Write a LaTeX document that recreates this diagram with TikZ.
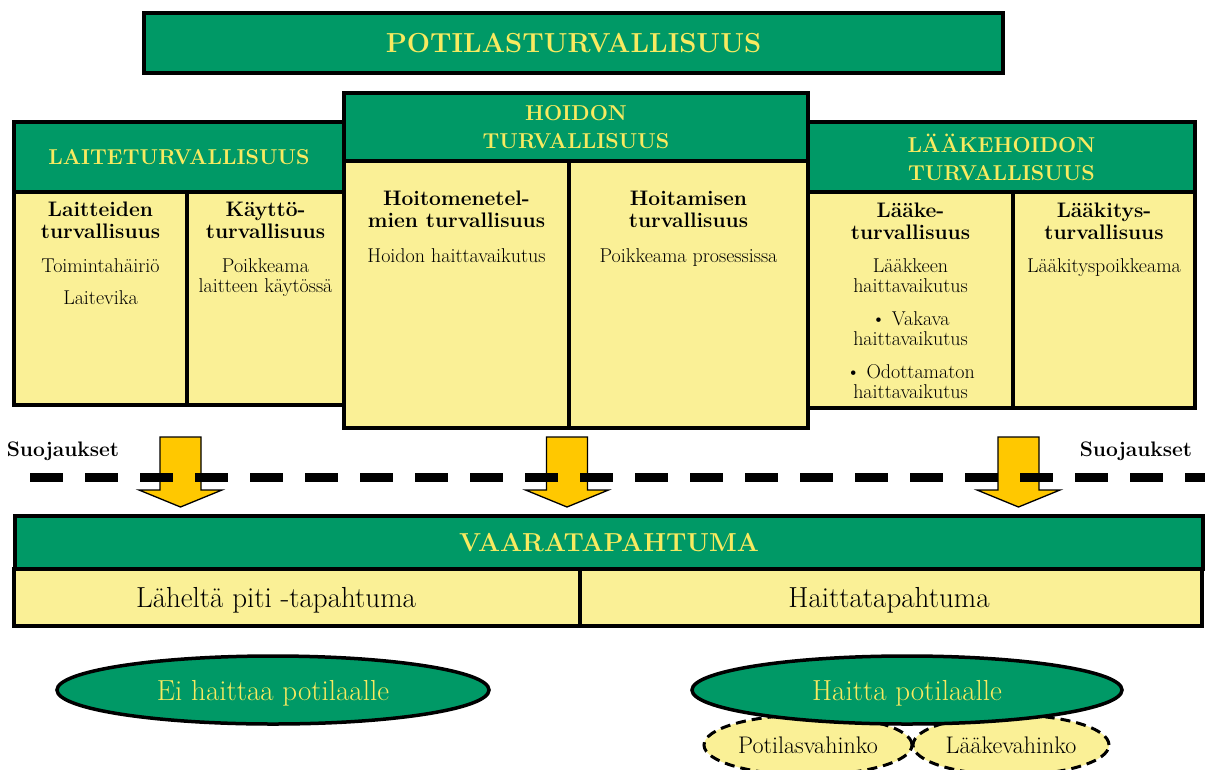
\documentclass[tikz,border=0pt]{standalone}
\usepackage{fontspec}
\usetikzlibrary{shapes.geometric}

\definecolor{boxgreen}{RGB}{0,153,102}
\definecolor{cellyellow}{RGB}{250,240,150}
\definecolor{capyellow}{RGB}{248,234,96}
\definecolor{arrowgold}{RGB}{255,200,0}

\tikzset{
  boxframe/.style={rectangle, draw=black, line width=3.5pt, inner sep=0pt, outer sep=0pt},
  greenbox/.style={boxframe, fill=boxgreen, text=capyellow},
  cellbox/.style={boxframe, fill=cellyellow},
  titletxt/.style={font=\fontsize{27.5}{30}\selectfont\bfseries},
  bandhead/.style={font=\fontsize{26}{30}\selectfont\bfseries},
  grouphead/.style={font=\fontsize{21.5}{28}\selectfont\bfseries, align=center},
  subhead/.style={font=\fontsize{21}{22.5}\selectfont\bfseries, align=center, inner sep=0pt, anchor=north},
  bodytxt/.style={font=\fontsize{20}{20}\selectfont, align=center, inner sep=0pt, anchor=north},
  bandtxt/.style={font=\fontsize{29}{32}\selectfont, inner sep=0pt, anchor=base},
  guard/.style={font=\fontsize{21}{24}\selectfont\bfseries, inner sep=0pt, anchor=base},
  barrier/.style={line width=9pt, dash pattern=on 33pt off 22pt},
  arrowbody/.style={draw=black, line width=1.3pt, fill=arrowgold, line join=miter},
  outcome/.style={ellipse, draw=black, line width=3.5pt, fill=boxgreen, inner sep=0pt,
    text=capyellow, font=\fontsize{29}{32}\selectfont, text depth=0pt},
  harm/.style={ellipse, draw=black, line width=3pt, dash pattern=on 10pt off 6pt,
    fill=cellyellow, inner sep=0pt, font=\fontsize{24}{26}\selectfont, text depth=0pt},
  downblock/.pic={
    \draw[arrowbody] (-20.5,0) -- (-20.5,53) -- (-41.5,53) -- (0,70)
      -- (41.5,53) -- (20.5,53) -- (20.5,0) -- cycle;
  }
}

\begin{document}
\begin{tikzpicture}[x=1pt, y=-1pt]
\useasboundingbox (0,0) rectangle (1205,769);

% overall heading
\node[greenbox, titletxt, minimum width=859pt, minimum height=60pt] (title) at (573.5,43) {POTILASTURVALLISUUS};

% device safety
\node[greenbox, grouphead, minimum width=330pt, minimum height=70pt] (laite) at (179,157) {LAITETURVALLISUUS};
\node[cellbox, minimum width=173pt, minimum height=213pt] (laiteA) at (100.5,298.5) {};
\node[cellbox, minimum width=157pt, minimum height=213pt] (laiteB) at (265.5,298.5) {};
\node[subhead] (laiteAh) at (100.5,201.4) {Laitteiden\\turvallisuus};
\node[bodytxt] (laiteAt) at (100.5,258) {Toimintahäiriö\\[12pt]Laitevika};
\node[subhead] (laiteBh) at (265.5,201.4) {Käyttö-\\turvallisuus};
\node[bodytxt] (laiteBt) at (265.5,258) {Poikkeama\\laitteen käytössä};

% medication safety
\node[greenbox, grouphead, minimum width=387pt, minimum height=70pt] (laake) at (1001.5,157) {LÄÄKEHOIDON\\TURVALLISUUS};
\node[cellbox, minimum width=205pt, minimum height=216pt] (laakeA) at (910.5,300) {};
\node[cellbox, minimum width=182pt, minimum height=216pt] (laakeB) at (1104,300) {};
\node[subhead] (laakeAh) at (910.5,202.4) {Lääke-\\turvallisuus};
\node[bodytxt] (laakeAt) at (910.5,258) {Lääkkeen\\haittavaikutus\\[13pt]\textbullet{} Vakava\\haittavaikutus\\[13pt]\textbullet{} Odottamaton\\haittavaikutus};
\node[subhead] (laakeBh) at (1104,202.4) {Lääkitys-\\turvallisuus};
\node[bodytxt] (laakeBt) at (1104,258) {Lääkityspoikkeama};

% care safety (in front)
\node[greenbox, grouphead, minimum width=464pt, minimum height=68pt] (hoito) at (576,127) {HOIDON\\TURVALLISUUS};
\node[cellbox, minimum width=225pt, minimum height=267pt] (hoitoA) at (456.5,294.5) {};
\node[cellbox, minimum width=239pt, minimum height=267pt] (hoitoB) at (688.5,294.5) {};
\node[subhead] (hoitoAh) at (456.5,190.4) {Hoitomenetel-\\mien turvallisuus};
\node[bodytxt] (hoitoAt) at (456.5,248) {Hoidon haittavaikutus};
\node[subhead] (hoitoBh) at (688.5,190.4) {Hoitamisen\\turvallisuus};
\node[bodytxt] (hoitoBt) at (688.5,248) {Poikkeama prosessissa};

% block arrows through the safeguards
\pic (arrL) at (180.5,437) {downblock};
\pic (arrM) at (567,437) {downblock};
\pic (arrR) at (1018.5,437) {downblock};

% safeguard line
\coordinate (fenceL) at (30,477.5);
\coordinate (fenceR) at (1205,477.5);
\draw[barrier] (fenceL) -- (fenceR);
\node[guard] (suojL) at (63,456) {Suojaukset};
\node[guard] (suojR) at (1136,456) {Suojaukset};

% incident
\node[greenbox, bandhead, minimum width=1188pt, minimum height=53pt] (vaara) at (609,542.5) {VAARATAPAHTUMA};
\node[cellbox, minimum width=566pt, minimum height=57pt] (lahelta) at (297,597.5) {};
\node[cellbox, minimum width=622pt, minimum height=57pt] (haittatap) at (891,597.5) {};
\node[bandtxt] (laheltaT) at (276,607.5) {Läheltä piti -tapahtuma};
\node[bandtxt] (haittatapT) at (889,607.5) {Haittatapahtuma};

% outcomes
\node[outcome, minimum width=432pt, minimum height=68pt] (eihaitta) at (273,690) {Ei haittaa potilaalle};
\node[harm, minimum width=208pt, minimum height=60pt] (potvah) at (808,745) {Potilasvahinko};
\node[harm, minimum width=196pt, minimum height=60pt] (laakvah) at (1011,745) {Lääkevahinko};
\node[outcome, minimum width=430pt, minimum height=68pt] (haitta) at (907,690) {Haitta potilaalle};
\end{tikzpicture}
\end{document}
